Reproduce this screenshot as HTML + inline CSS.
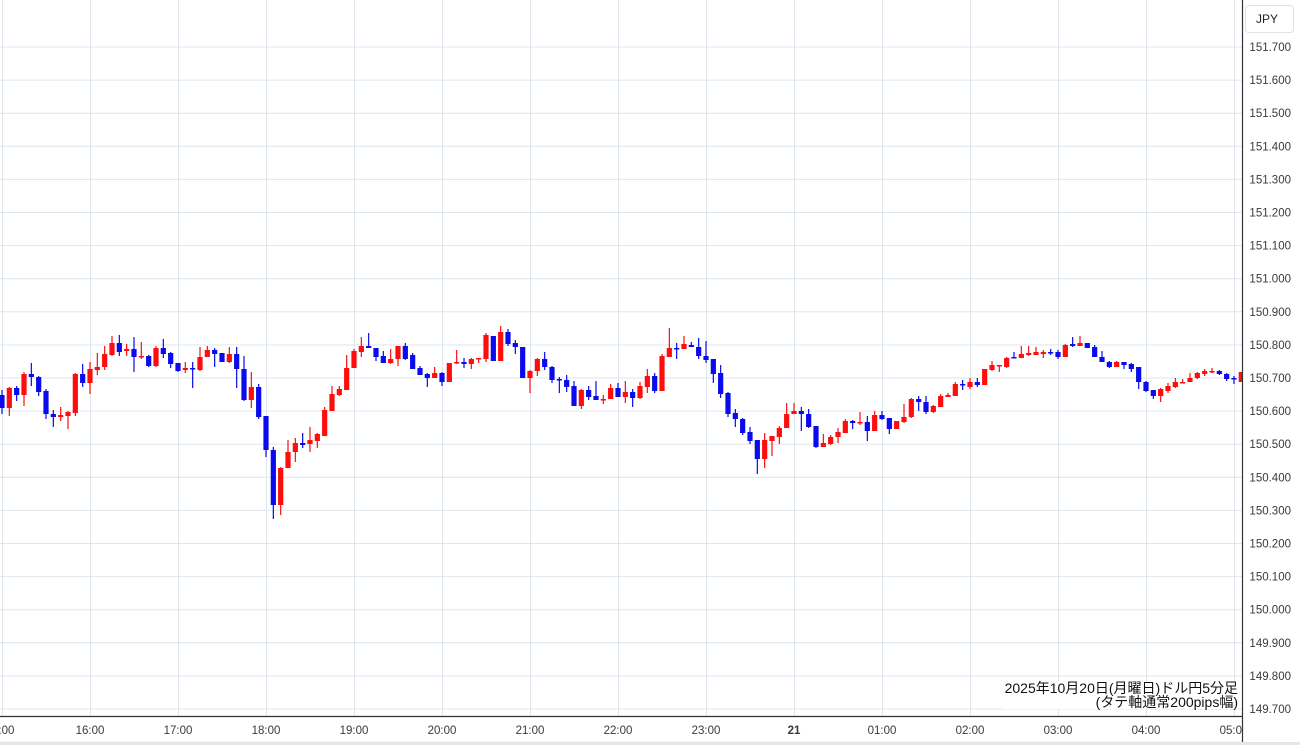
<!DOCTYPE html>
<html><head><meta charset="utf-8"><style>
html,body{margin:0;padding:0;background:#fff;}
body{width:1300px;height:745px;overflow:hidden;position:relative;font-family:"Liberation Sans","Noto Sans CJK JP",sans-serif;}
svg{position:absolute;left:0;top:0;}
.note{position:absolute;right:62px;top:681px;font-size:14px;line-height:14px;color:#111;text-align:right;background:#fff;padding-left:2px;white-space:nowrap;}
</style></head><body>
<svg id="c" width="1300" height="745" xmlns="http://www.w3.org/2000/svg"></svg>
<div class="note">2025年10月20日(月曜日)ドル円5分足<br>(タテ軸通常200pips幅)</div>
<script>
var D=[
"b 395 408 390 414","r 388 408 387 416","b 388 395 386 401","r 374 395 372 406","b 374 377 363 386","b 377 392 376 396","b 391 414 389 419","b 414 417 410 427","r 415 417 407 421","r 412 416 411 429",
"r 374 413 373 416","b 374 383 364 387","r 369 383 362 394","r 367 370 353 375","r 354 367 346 370","r 343 355 336 356","b 343 352 335 356","r 349 351 344 356","b 349 357 337 372","r 356 357 342 359",
"b 356 366 355 367","r 348 366 346 367","b 348 354 339 358","b 353 364 352 368","b 363 371 363 372","r 368 370 362 373","b 368 369 362 388","r 357 370 347 371","r 350 357 346 357","b 350 354 348 367",
"b 353 362 353 362","r 354 362 347 363","b 354 369 347 388","b 369 400 356 401","r 387 400 372 408","b 387 417 384 419","b 416 450 416 457","b 450 505 447 519","r 468 505 467 515","r 452 468 440 468",
"r 443 452 438 462","b 443 445 433 448","r 440 444 427 452","r 434 441 433 448","r 410 436 407 436","r 394 411 386 411","r 389 395 386 396","r 368 390 355 390","r 351 368 349 368","r 346 352 337 357",
"b 346 348 333 348","b 348 357 348 361","b 356 363 351 363","r 359 363 349 364","r 346 359 346 366","b 346 359 343 360","b 355 369 353 369","b 368 375 366 375","b 374 378 373 387","r 373 378 367 378",
"b 373 382 372 386","r 363 382 363 382","r 362 363 350 364","b 362 364 358 368","r 359 364 358 369","r 358 359 358 363","r 335 359 333 362","b 336 361 336 361","r 332 361 326 361","b 332 344 329 346",
"b 343 347 340 354","b 347 378 347 378","r 371 378 370 393","r 359 371 358 376","b 359 367 352 370","b 367 380 366 383","b 379 380 377 393","b 380 387 375 392","b 386 406 381 406","r 390 406 389 409",
"b 390 397 386 400","b 396 400 381 400","r 399 400 395 404","r 388 399 384 399","b 388 397 383 397","r 392 397 381 403","b 392 398 389 407","r 386 398 382 399","r 376 387 369 393","b 376 391 373 393",
"r 356 391 354 391","r 348 357 328 357","b 348 349 343 359","r 344 349 336 349","b 345 347 342 347","b 347 356 338 359","b 356 360 341 363","b 359 374 359 383","b 373 394 365 398","b 393 414 392 417",
"b 413 419 409 427","b 419 433 418 435","b 432 441 427 444","b 440 459 440 474","r 440 459 433 468","r 436 441 436 456","r 428 437 426 444","r 414 428 403 428","r 411 414 403 414","b 411 414 407 431",
"b 414 427 409 428","b 426 447 426 448","r 443 447 434 447","r 437 444 435 445","r 432 437 428 443","r 421 433 419 433","b 421 423 420 429","r 422 423 412 425","b 422 431 416 441","r 415 431 411 431",
"b 415 419 411 420","b 418 429 418 434","r 421 429 421 429","r 417 422 404 423","r 399 417 398 418","b 399 402 396 411","b 402 412 396 414","r 406 412 405 413","r 396 407 394 407","r 395 397 393 397",
"r 384 396 382 396","b 384 385 380 390","r 382 387 378 389","b 382 385 378 387","r 369 385 369 385","r 365 370 361 371","r 365 366 365 372","r 358 367 357 368","b 357 358 352 358","r 354 358 346 358",
"r 353 355 346 356","r 352 355 347 355","r 352 354 350 358","b 352 353 349 355","b 352 357 350 359","r 345 357 344 357","b 344 346 337 347","r 343 346 336 346","b 343 348 343 348","b 347 357 345 357",
"b 357 362 351 362","b 362 367 361 368","r 362 367 361 367","b 362 365 362 369","b 364 369 363 372","b 367 382 367 389","b 382 391 381 392","b 390 396 390 399","r 389 396 388 402","r 386 391 383 393",
"r 382 387 378 388","r 382 383 379 383","r 378 382 373 382","r 373 378 372 379","r 371 374 369 376","r 371 372 368 373","b 371 374 370 375","b 374 379 373 381","b 378 379 376 384","r 372 382 372 382"
];
var s='';
var grid='#dfe6ee';
s+='<defs><clipPath id="pc"><rect x="0" y="0" width="1242" height="716"/></clipPath><clipPath id="tc"><rect x="0" y="716" width="1242" height="30"/></clipPath></defs>';
for(var i=-1;i<=20;i++){var y=(709-i*33.1);s+='<line x1="0" x2="1242" y1="'+y.toFixed(1)+'" y2="'+y.toFixed(1)+'" stroke="'+grid+'" stroke-width="1"/>';}
for(var h=0;h<=14;h++){var x=2+88*h+0.5;s+='<line x1="'+x+'" x2="'+x+'" y1="0" y2="716" stroke="'+grid+'" stroke-width="1"/>';}
s+='<g clip-path="url(#pc)">';
for(var k=0;k<D.length;k++){
 var p=D[k].split(' ');var col=p[0]=='r'?'#ff0d0d':'#0a0aef';
 var bt=+p[1],bb=+p[2],wt=+p[3],wb=+p[4];
 var cx=2+7.3333*k;
 if(bb-bt<1.5){bb=bt+1.5;}
 s+='<rect x="'+(cx-0.6).toFixed(2)+'" y="'+wt+'" width="1.2" height="'+(wb-wt)+'" fill="'+col+'"/>';
 s+='<rect x="'+(cx-2.6).toFixed(2)+'" y="'+bt+'" width="5.2" height="'+(bb-bt)+'" fill="'+col+'"/>';
}
s+='</g>';
s+='<line x1="0" x2="1242" y1="716.5" y2="716.5" stroke="#333" stroke-width="1.2"/>';
s+='<line x1="1242.5" x2="1242.5" y1="0" y2="742" stroke="#333" stroke-width="1.2"/>';
s+='<rect x="0" y="742" width="1300" height="3" fill="#e3e6ea"/>';
var labs=['149.700','149.800','149.900','150.000','150.100','150.200','150.300','150.400','150.500','150.600','150.700','150.800','150.900','151.000','151.100','151.200','151.300','151.400','151.500','151.600','151.700'];
for(var i=0;i<labs.length;i++){var y=709-i*33.1;s+='<text x="1291" y="'+(y+4).toFixed(1)+'" font-size="11.5" text-anchor="end" fill="#3a3a3a" font-family="Liberation Sans, sans-serif">'+labs[i]+'</text>';}
s+='<rect x="1245.5" y="5.5" width="48" height="27" rx="3" fill="#fff" stroke="#e2e2e2"/>';
s+='<text x="1256" y="23" font-size="12" fill="#222" font-family="Liberation Sans, sans-serif">JPY</text>';
var tl=['15:00','16:00','17:00','18:00','19:00','20:00','21:00','22:00','23:00','21','01:00','02:00','03:00','04:00','05:00'];
s+='<g clip-path="url(#tc)">';
for(var h=0;h<tl.length;h++){var x=2+88*h;if(h==0)x=0;s+='<text x="'+x+'" y="734" font-size="11.5" text-anchor="middle" fill="#3a3a3a" '+(tl[h]=='21'?'font-weight="bold" ':'')+'font-family="Liberation Sans, sans-serif">'+tl[h]+'</text>';}
s+='</g>';
document.getElementById('c').innerHTML=s;
</script>
</body></html>
